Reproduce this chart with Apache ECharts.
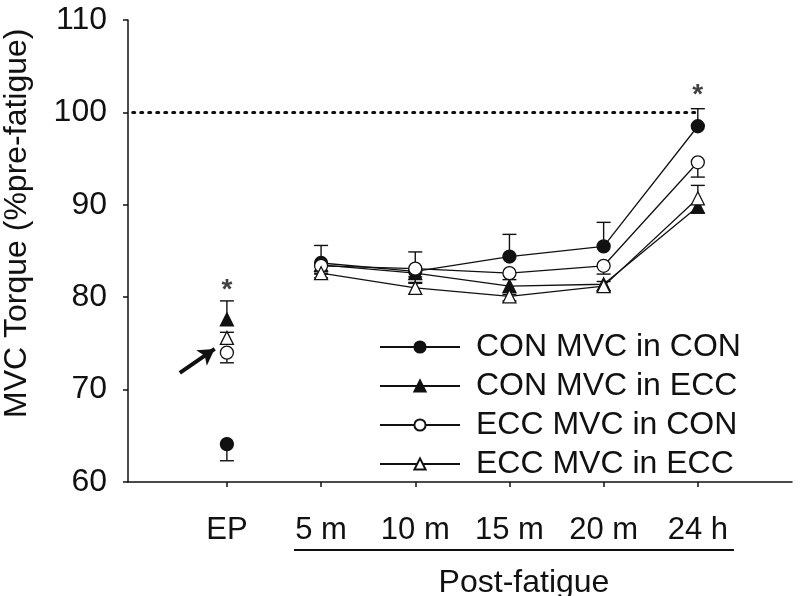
<!DOCTYPE html>
<html>
<head>
<meta charset="utf-8">
<script src="https://cdn.jsdelivr.net/npm/echarts@6/dist/echarts.min.js"></script>
<style>html,body{margin:0;padding:0;background:#fff;}#c{width:800px;height:596px;}</style>
</head>
<body>
<div id="c"></div>
<script>
// ---- data ----
var categories = ['EP', '5 m', '10 m', '15 m', '20 m', '24 h'];
var xPositions = [1, 2, 3, 4, 5, 6];
var yTicks = [60, 70, 80, 90, 100, 110];
var seriesNames = ['CON MVC in CON', 'CON MVC in ECC', 'ECC MVC in CON', 'ECC MVC in ECC'];
var conInCon = [64.1, 83.7, 82.8, 84.4, 85.5, 98.5];
var conInConErr = [-1.8, 1.9, 2.1, 2.4, 2.6, 1.9];
var conInEcc = [77.6, 83.5, 82.6, 81.2, 81.4, 89.8];
var conInEccErr = [2.0, -0.9, -1.0, -0.9, -0.7, -0.7];
var eccInCon = [74.0, 83.4, 83.1, 82.6, 83.4, 94.6];
var eccInConErr = [-1.1, -0.9, -0.9, -0.7, -0.9, -1.6];
var eccInEcc = [75.6, 82.6, 81.0, 80.1, 81.2, 90.7];
var eccInEccErr = [0.6, -0.5, 0.5, -0.5, 0.5, 1.4];
var referenceLevel = 100;
var asterisks = [[1, 80.8], [6, 101.9]];
var arrowFrom = [0.50, 71.8];
var arrowTo = [0.87, 74.4];

var FONT = 'Liberation Sans, Arial, sans-serif';
var INK = '#111';

// EP is a separate time point: leave a gap between EP and the post-fatigue points
function pairs(vals) {
  var out = [];
  vals.forEach(function (v, i) {
    out.push([xPositions[i], v]);
    if (i === 0) out.push([1.5, '-']);
  });
  return out;
}
function errPairs(vals, errs) { return vals.map(function (v, i) { return [xPositions[i], v, v + errs[i]]; }); }

function errSeries(vals, errs) {
  return {
    type: 'custom',
    data: errPairs(vals, errs),
    z: 1,
    silent: true,
    renderItem: function (params, api) {
      var p0 = api.coord([api.value(0), api.value(1)]);
      var p1 = api.coord([api.value(0), api.value(2)]);
      var hw = 7;
      return {
        type: 'group',
        children: [
          { type: 'line', shape: { x1: p0[0], y1: p0[1], x2: p1[0], y2: p1[1] }, style: { stroke: INK, lineWidth: 1.4 } },
          { type: 'line', shape: { x1: p1[0] - hw, y1: p1[1], x2: p1[0] + hw, y2: p1[1] }, style: { stroke: INK, lineWidth: 1.4 } }
        ]
      };
    }
  };
}

function lineSeries(name, vals, symbol, filled) {
  return {
    name: name,
    type: 'line',
    data: pairs(vals),
    connectNulls: false,
    symbol: symbol,
    symbolSize: 13,
    z: 3,
    lineStyle: { color: INK, width: 1.3 },
    itemStyle: { color: filled ? INK : '#fff', borderColor: INK, borderWidth: 1.3, opacity: 1 },
    emphasis: { disabled: true }
  };
}

var chart = echarts.init(document.getElementById('c'), null, { renderer: 'canvas' });

var s1 = lineSeries(seriesNames[0], conInCon, 'circle', true);
s1.markLine = {
  silent: true,
  symbol: ['none', 'none'],
  label: { show: false },
  lineStyle: { color: INK, type: [2, 6], width: 3, cap: 'round' },
  data: [[{ coord: [0, referenceLevel] }, { coord: [6, referenceLevel] }]]
};
var s2 = lineSeries(seriesNames[1], conInEcc, 'triangle', true);
s2.markLine = {
  silent: true,
  symbol: ['none', 'arrow'],
  symbolSize: [14, 16],
  label: { show: false },
  lineStyle: { color: INK, type: 'solid', width: 4 },
  data: [[{ coord: arrowFrom }, { coord: arrowTo }]]
};

chart.setOption({
  animation: false,
  backgroundColor: '#fff',
  textStyle: { fontFamily: FONT, color: INK },
  grid: { left: 128, right: 8, top: 20, bottom: 114, containLabel: false },
  xAxis: {
    type: 'value',
    min: -0.05,
    max: 7,
    splitLine: { show: false },
    axisLine: { onZero: false, lineStyle: { color: INK, width: 1.5 } },
    axisTick: { show: true, customValues: xPositions, length: 5, lineStyle: { color: INK, width: 1.5 } },
    axisLabel: {
      customValues: xPositions,
      margin: 33,
      fontSize: 31,
      fontFamily: FONT,
      color: INK,
      formatter: function (v) { var i = xPositions.indexOf(Math.round(v)); return i >= 0 ? categories[i] : ''; }
    }
  },
  yAxis: {
    type: 'value',
    min: 60,
    max: 110,
    interval: 10,
    splitLine: { show: false },
    axisLine: { show: true, onZero: false, lineStyle: { color: INK, width: 1.5 } },
    axisTick: { show: true, length: 5, lineStyle: { color: INK, width: 1.5 } },
    axisLabel: { margin: 21, fontSize: 32, fontFamily: FONT, color: INK }
  },
  legend: {
    data: seriesNames,
    orient: 'vertical',
    left: 374,
    top: 326,
    itemWidth: 80,
    itemHeight: 14,
    itemGap: 7,
    selectedMode: false,
    textStyle: { fontSize: 32, fontFamily: FONT, color: INK, padding: [0, 0, 0, 11] }
  },
  graphic: [
    { type: 'text', x: 1, y: 418, rotation: Math.PI / 2, style: { text: 'MVC Torque (%pre-fatigue)', font: '32px ' + FONT, fill: INK } },
    { type: 'line', shape: { x1: 294, y1: 550, x2: 734, y2: 550 }, style: { stroke: INK, lineWidth: 2 } },
    { type: 'text', x: 524, y: 583, style: { text: 'Post-fatigue', font: '32px ' + FONT, fill: INK, align: 'center', verticalAlign: 'middle' } }
  ],
  series: [
    errSeries(conInCon, conInConErr),
    errSeries(conInEcc, conInEccErr),
    errSeries(eccInCon, eccInConErr),
    errSeries(eccInEcc, eccInEccErr),
    s1, s2,
    lineSeries(seriesNames[2], eccInCon, 'circle', false),
    lineSeries(seriesNames[3], eccInEcc, 'triangle', false),
    {
      type: 'scatter',
      data: asterisks,
      symbolSize: 0,
      silent: true,
      label: { show: true, position: 'inside', formatter: '*', fontSize: 28, fontWeight: 'bold', fontFamily: FONT, color: INK }
    }
  ]
});
</script>
</body>
</html>
